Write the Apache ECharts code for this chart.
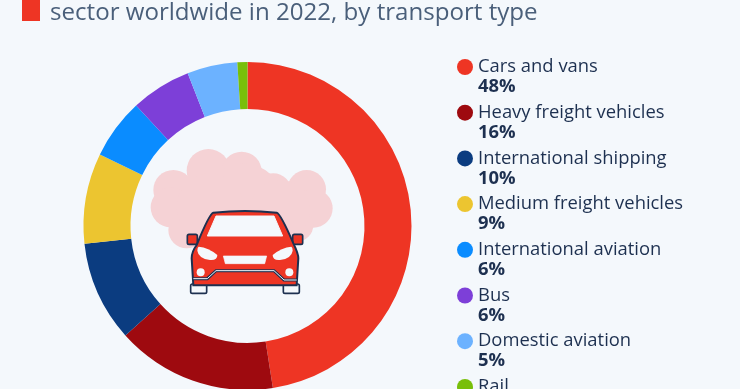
<!DOCTYPE html>
<html>
<head>
<meta charset="utf-8">
<script src="https://cdn.jsdelivr.net/npm/echarts@6/dist/echarts.min.js"></script>
<style>
html, body { margin: 0; padding: 0; background: #f4f8fc; overflow: hidden; }
#chart { width: 740px; height: 389px; }
</style>
</head>
<body>
<div id="chart"></div>
<script>
var transportTypes = ['Cars and vans', 'Heavy freight vehicles', 'International shipping', 'Medium freight vehicles', 'International aviation', 'Bus', 'Domestic aviation', 'Rail'];
var shareValues = [48, 16, 10, 9, 6, 6, 5, 1];
var sliceColors = ['#ee3524', '#9e0a0f', '#0b3c80', '#ecc530', '#0a8cff', '#7d3fd8', '#6cb2ff', '#78bf0a'];

var bg = '#f4f8fc', ink = '#1d3050', red = '#ee3524', cloud = '#f5d2d5';

var chart = echarts.init(document.getElementById('chart'));

// the graphic component has no plain svg path type, so register the car shapes
function addShape(name, d) {
    echarts.graphic.registerShape(name, echarts.graphic.extendPath(d, {}));
}
addShape('carBody', 'M250 248Q345 238 440 248Q452 252 490 340Q505 370 505 385L500 466L190 466L185 385Q185 365 200 345Q238 252 250 248Z');
addShape('carLightL', 'M206 350Q235 352 262 375Q262 392 240 390Q205 385 202 362Q202 352 206 350Z');
addShape('carLightR', 'M484 350Q455 352 428 375Q428 392 450 390Q485 385 488 362Q488 352 484 350Z');

// smoke puffs behind the car, in zoomed coordinates (group is scaled down 3x)
var puffs = [[235, 122, 65], [335, 125, 60], [430, 185, 55], [530, 178, 58], [550, 235, 58], [130, 180, 60], [122, 232, 60], [170, 300, 55], [500, 285, 50], [340, 220, 120], [240, 230, 100], [450, 240, 90]];
var carParts = puffs.map(function (p) {
    return { type: 'circle', shape: { cx: p[0], cy: p[1], r: p[2] }, style: { fill: cloud } };
});
carParts = carParts.concat([
    { type: 'rect', shape: { x: 172, y: 313, width: 30, height: 30, r: 5 }, style: { fill: red, stroke: ink, lineWidth: 5 } },
    { type: 'rect', shape: { x: 488, y: 313, width: 30, height: 30, r: 5 }, style: { fill: red, stroke: ink, lineWidth: 5 } },
    { type: 'rect', shape: { x: 182, y: 462, width: 48, height: 28, r: 5 }, style: { fill: bg, stroke: ink, lineWidth: 5 } },
    { type: 'rect', shape: { x: 460, y: 462, width: 48, height: 28, r: 5 }, style: { fill: bg, stroke: ink, lineWidth: 5 } },
    { type: 'carBody', style: { fill: red, stroke: ink, lineWidth: 6 } },
    { type: 'polygon', shape: { points: [[258, 258], [432, 258], [458, 318], [232, 318]] }, style: { fill: bg, stroke: bg, lineWidth: 3, lineJoin: 'round' } },
    { type: 'carLightL', style: { fill: bg } },
    { type: 'carLightR', style: { fill: bg } },
    { type: 'polygon', shape: { points: [[280, 378], [410, 378], [404, 401], [286, 401]] }, style: { fill: bg, stroke: bg, lineWidth: 2 } },
    { type: 'circle', shape: { cx: 212, cy: 427, r: 12 }, style: { fill: bg } },
    { type: 'circle', shape: { cx: 478, cy: 427, r: 12 }, style: { fill: bg } },
    { type: 'polyline', shape: { points: [[190, 446], [232, 446], [258, 422], [432, 422], [462, 450], [500, 450]] }, style: { fill: 'none', stroke: ink, lineWidth: 9 } },
    { type: 'polyline', shape: { points: [[190, 446], [232, 446], [258, 422], [432, 422], [462, 450], [500, 450]] }, style: { fill: 'none', stroke: bg, lineWidth: 3 } }
]);

var option = {
    backgroundColor: bg,
    animation: false,
    title: {
        text: 'sector worldwide in 2022, by transport type',
        left: 50,
        top: 1,
        padding: 0,
        textStyle: { fontFamily: 'Open Sans', fontSize: 24.1, fontWeight: 400, color: '#4a5f7a' }
    },
    legend: {
        orient: 'vertical',
        left: 457,
        top: 38,
        height: 600,
        padding: 0,
        icon: 'circle',
        itemWidth: 16,
        itemHeight: 16,
        itemGap: -12.3,
        selectedMode: false,
        data: transportTypes,
        // blank first line keeps the marker centred on the name line
        formatter: function (name) {
            return '{n| }\n{n|' + name + '}\n{v|' + shareValues[transportTypes.indexOf(name)] + '%}';
        },
        textStyle: {
            rich: {
                n: { fontFamily: 'Open Sans', fontSize: 18.4, color: ink, lineHeight: 20 },
                v: { fontFamily: 'Open Sans', fontSize: 18.4, fontWeight: 700, color: ink, lineHeight: 20 }
            }
        }
    },
    series: [{
        type: 'pie',
        center: [247.5, 226],
        radius: [117, 164],
        startAngle: 90,
        silent: true,
        label: { show: false },
        labelLine: { show: false },
        data: transportTypes.map(function (name, i) {
            return { name: name, value: shareValues[i], itemStyle: { color: sliceColors[i] } };
        })
    }],
    graphic: [
        { type: 'rect', shape: { x: 22, y: 0, width: 18, height: 21 }, style: { fill: red } },
        { type: 'group', x: 130, y: 130, scaleX: 1 / 3, scaleY: 1 / 3, children: carParts }
    ]
};
chart.setOption(option);

window.addEventListener('resize', chart.resize);
</script>
</body>
</html>
